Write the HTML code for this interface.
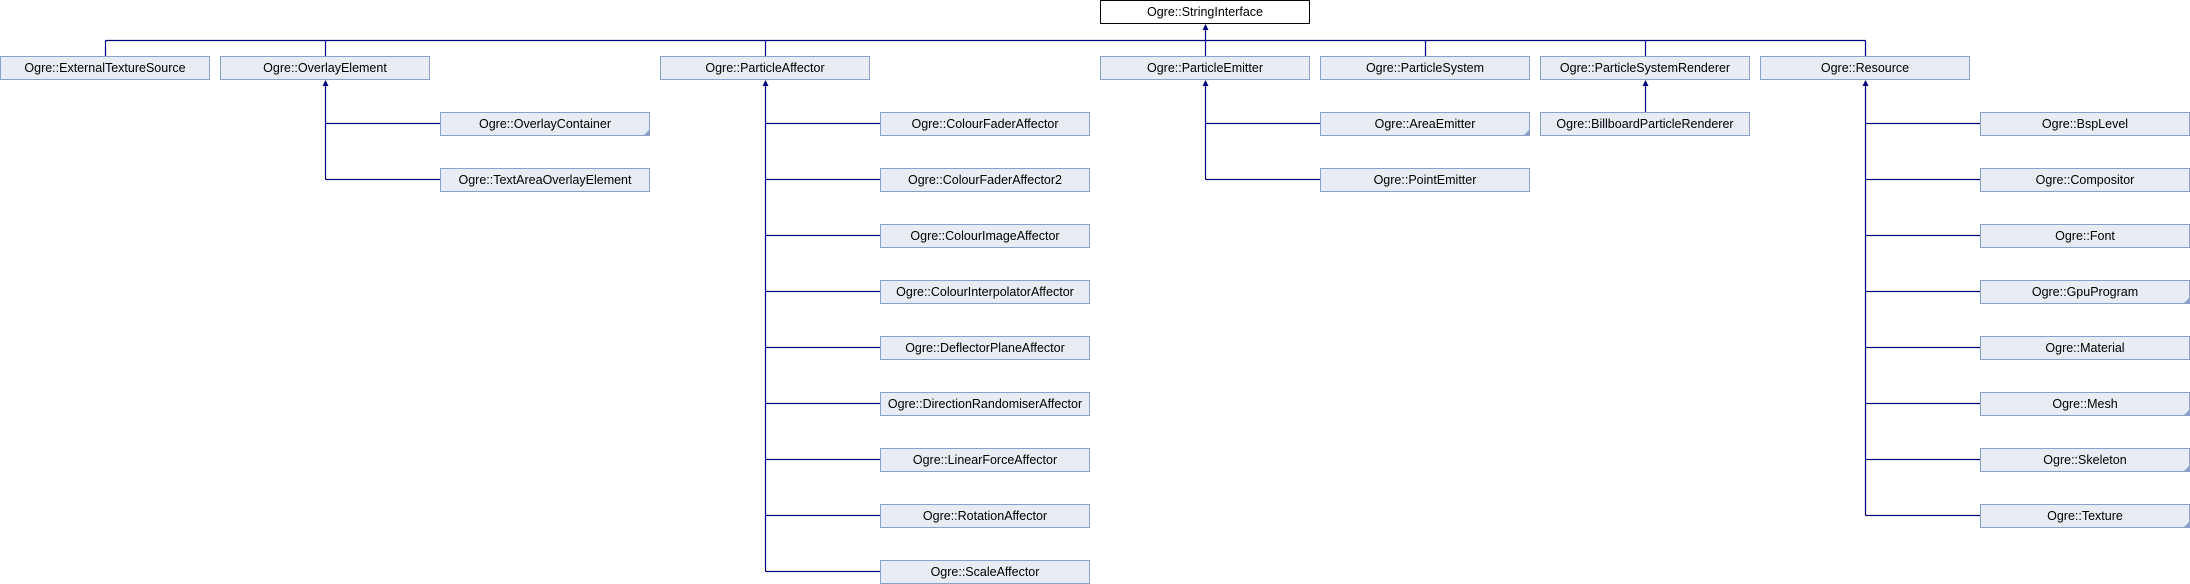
<!DOCTYPE html>
<html><head><meta charset="utf-8"><style>
html,body{margin:0;padding:0;background:#fff;}
svg{display:block;}
text{font-family:"Liberation Sans",sans-serif;font-size:12.5px;fill:#000;}
</style></head><body>
<svg width="2190" height="584" viewBox="0 0 2190 584" xmlns="http://www.w3.org/2000/svg">
<g stroke="#000080" stroke-width="1.2" fill="none">
<!-- bus -->
<path d="M105.5,40.5 H1865.5"/>
<path d="M105.5,40.5 V56 M325.5,40.5 V56 M765.5,40.5 V56 M1425.5,40.5 V56 M1645.5,40.5 V56 M1865.5,40.5 V56 M1205.5,28 V56"/>
<!-- overlay -->
<path d="M325.5,84 V179.5 M325.5,123.5 H440 M325.5,179.5 H440"/>
<!-- affector -->
<path d="M765.5,84 V571.5"/>
<path d="M765.5,123.5 H880 M765.5,179.5 H880 M765.5,235.5 H880 M765.5,291.5 H880 M765.5,347.5 H880 M765.5,403.5 H880 M765.5,459.5 H880 M765.5,515.5 H880 M765.5,571.5 H880"/>
<!-- emitter -->
<path d="M1205.5,84 V179.5 M1205.5,123.5 H1320 M1205.5,179.5 H1320"/>
<!-- billboard -->
<path d="M1645.5,84 V112"/>
<!-- resource -->
<path d="M1865.5,84 V515.5"/>
<path d="M1865.5,123.5 H1980 M1865.5,179.5 H1980 M1865.5,235.5 H1980 M1865.5,291.5 H1980 M1865.5,347.5 H1980 M1865.5,403.5 H1980 M1865.5,459.5 H1980 M1865.5,515.5 H1980"/>
</g>
<g fill="#000080">
<path d="M1205.5,24 l-3,6 h6 z"/>
<path d="M325.5,80 l-3,6 h6 z"/>
<path d="M765.5,80 l-3,6 h6 z"/>
<path d="M1205.5,80 l-3,6 h6 z"/>
<path d="M1645.5,80 l-3,6 h6 z"/>
<path d="M1865.5,80 l-3,6 h6 z"/>
</g>
<rect x="1100.5" y="0.5" width="209" height="23" fill="#fff" stroke="#000" stroke-width="1"/>
<text x="1205" y="16" text-anchor="middle">Ogre::StringInterface</text>
<g fill="#e8ecf5" stroke="#8ca0cc" stroke-width="1">
<rect x="0.5" y="56.5" width="209" height="23"/>
<rect x="220.5" y="56.5" width="209" height="23"/>
<rect x="660.5" y="56.5" width="209" height="23"/>
<rect x="1100.5" y="56.5" width="209" height="23"/>
<rect x="1320.5" y="56.5" width="209" height="23"/>
<rect x="1540.5" y="56.5" width="209" height="23"/>
<rect x="1760.5" y="56.5" width="209" height="23"/>
<rect x="440.5" y="112.5" width="209" height="23"/>
<rect x="440.5" y="168.5" width="209" height="23"/>
<rect x="1320.5" y="112.5" width="209" height="23"/>
<rect x="1320.5" y="168.5" width="209" height="23"/>
<rect x="1540.5" y="112.5" width="209" height="23"/>
<rect x="880.5" y="112.5" width="209" height="23"/>
<rect x="880.5" y="168.5" width="209" height="23"/>
<rect x="880.5" y="224.5" width="209" height="23"/>
<rect x="880.5" y="280.5" width="209" height="23"/>
<rect x="880.5" y="336.5" width="209" height="23"/>
<rect x="880.5" y="392.5" width="209" height="23"/>
<rect x="880.5" y="448.5" width="209" height="23"/>
<rect x="880.5" y="504.5" width="209" height="23"/>
<rect x="880.5" y="560.5" width="209" height="23"/>
<rect x="1980.5" y="112.5" width="209" height="23"/>
<rect x="1980.5" y="168.5" width="209" height="23"/>
<rect x="1980.5" y="224.5" width="209" height="23"/>
<rect x="1980.5" y="280.5" width="209" height="23"/>
<rect x="1980.5" y="336.5" width="209" height="23"/>
<rect x="1980.5" y="392.5" width="209" height="23"/>
<rect x="1980.5" y="448.5" width="209" height="23"/>
<rect x="1980.5" y="504.5" width="209" height="23"/>
</g>
<g fill="#8ca0cc">
<path d="M650,129 v7 h-7 z"/>
<path d="M1530,129 v7 h-7 z"/>
<path d="M2190,297 v7 h-7 z"/>
<path d="M2190,409 v7 h-7 z"/>
<path d="M2190,465 v7 h-7 z"/>
<path d="M2190,521 v7 h-7 z"/>
</g>
<g text-anchor="middle">
<text x="105" y="72">Ogre::ExternalTextureSource</text>
<text x="325" y="72">Ogre::OverlayElement</text>
<text x="765" y="72">Ogre::ParticleAffector</text>
<text x="1205" y="72">Ogre::ParticleEmitter</text>
<text x="1425" y="72">Ogre::ParticleSystem</text>
<text x="1645" y="72">Ogre::ParticleSystemRenderer</text>
<text x="1865" y="72">Ogre::Resource</text>
<text x="545" y="128">Ogre::OverlayContainer</text>
<text x="545" y="184">Ogre::TextAreaOverlayElement</text>
<text x="1425" y="128">Ogre::AreaEmitter</text>
<text x="1425" y="184">Ogre::PointEmitter</text>
<text x="1645" y="128">Ogre::BillboardParticleRenderer</text>
<text x="985" y="128">Ogre::ColourFaderAffector</text>
<text x="985" y="184">Ogre::ColourFaderAffector2</text>
<text x="985" y="240">Ogre::ColourImageAffector</text>
<text x="985" y="296">Ogre::ColourInterpolatorAffector</text>
<text x="985" y="352">Ogre::DeflectorPlaneAffector</text>
<text x="985" y="408">Ogre::DirectionRandomiserAffector</text>
<text x="985" y="464">Ogre::LinearForceAffector</text>
<text x="985" y="520">Ogre::RotationAffector</text>
<text x="985" y="576">Ogre::ScaleAffector</text>
<text x="2085" y="128">Ogre::BspLevel</text>
<text x="2085" y="184">Ogre::Compositor</text>
<text x="2085" y="240">Ogre::Font</text>
<text x="2085" y="296">Ogre::GpuProgram</text>
<text x="2085" y="352">Ogre::Material</text>
<text x="2085" y="408">Ogre::Mesh</text>
<text x="2085" y="464">Ogre::Skeleton</text>
<text x="2085" y="520">Ogre::Texture</text>
</g>
</svg>
</body></html>
